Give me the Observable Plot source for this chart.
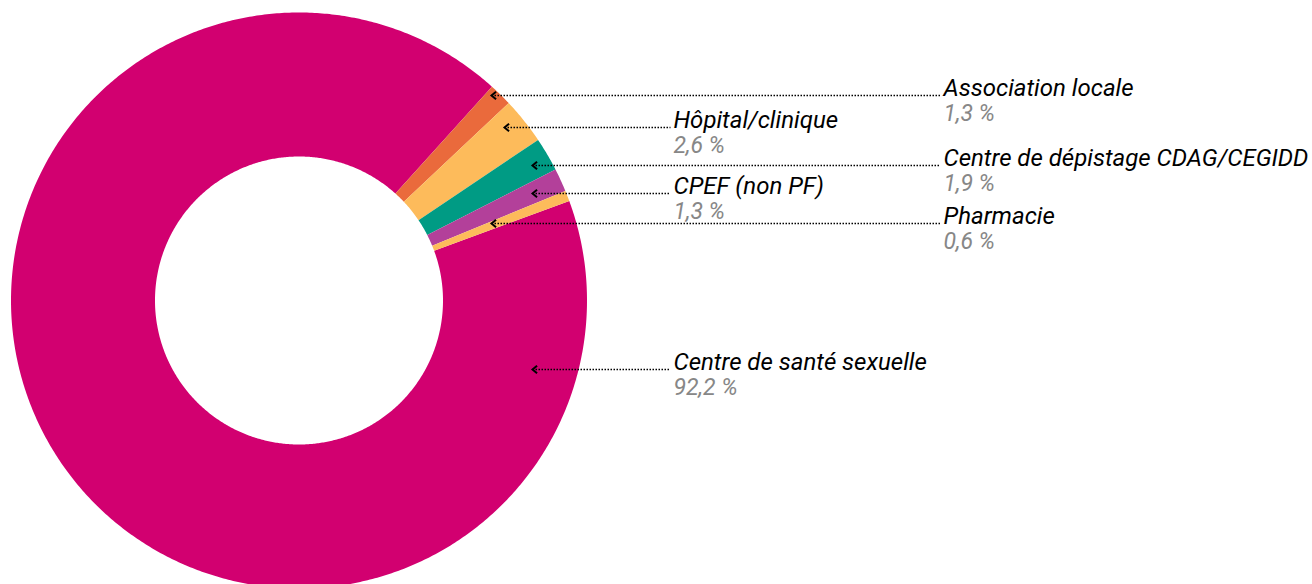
<!DOCTYPE html>
<html>
<head>
<meta charset="utf-8">
<script src="https://cdn.jsdelivr.net/npm/d3@7"></script>
<script src="https://cdn.jsdelivr.net/npm/@observablehq/plot@0.6"></script>
<style>
  html, body { margin: 0; padding: 0; background: #fff; }
  #chart { width: 1312px; height: 584px; overflow: hidden; }
  svg { font-family: Roboto, "Noto Sans", sans-serif; }
</style>
</head>
<body>
<div id="chart"></div>
<script>
// ---- data ----
const categories = ["Centre de santé sexuelle", "Association locale", "Hôpital/clinique", "Centre de dépistage CDAG/CEGIDD", "CPEF (non PF)", "Pharmacie"];
const shares = [92.2, 1.3, 2.6, 1.9, 1.3, 0.6];
const colors = ["#d20070", "#ea6a3c", "#fdbb5b", "#009b84", "#b3409a", "#fdbb5b"];

// ---- layout (annotation placement) ----
const W = 1312, H = 584;
const cx = 298.5, cy = 300, R = 288, r0 = 144;
const startDeg = 69.8;
const labelY  = [369, 95, 127, 165, 193, 223];
const anchorX = [532, 491, 504, 532, 532, 491];
const labelX  = [673, 943, 673, 943, 673, 943];

const total = d3.sum(shares);
const pt = (deg, rad) => {
  const a = deg * Math.PI / 180;
  return [cx + rad * Math.sin(a), cy - rad * Math.cos(a)];
};

// slice polygons built from the values
const poly = [];
let acc = startDeg;
shares.forEach((v, i) => {
  const span = v / total * 360;
  const a0 = acc, a1 = acc + span;
  const n = Math.max(4, Math.ceil(span * 2));
  for (let k = 0; k <= n; k++) { const [x, y] = pt(a0 + (a1 - a0) * k / n, R); poly.push({key: categories[i], x, y}); }
  for (let k = n; k >= 0; k--) { const [x, y] = pt(a0 + (a1 - a0) * k / n, r0); poly.push({key: categories[i], x, y}); }
  acc = a1;
});

const labels = categories.map((c, i) => ({
  name: c,
  pct: String(shares[i]).replace(".", ",") + " %",
  x1: anchorX[i], x2: labelX[i] - 3, y: labelY[i], tx: labelX[i]
}));

const chevron = {
  draw(ctx, size) {
    const s = Math.sqrt(size / Math.PI);
    ctx.moveTo(s * 1.2, -s);
    ctx.lineTo(0, 0);
    ctx.lineTo(s * 1.2, s);
  }
};

const plot = Plot.plot({
  width: W, height: H,
  margin: 0,
  x: {domain: [0, W], range: [0, W], axis: null},
  y: {domain: [0, H], range: [0, H], axis: null},
  color: {domain: categories, range: colors},
  style: {overflow: "hidden", fontFamily: "Roboto, sans-serif"},
  marks: [
    Plot.line(poly, {x: "x", y: "y", z: "key", fill: "key", stroke: "none", curve: "linear-closed"}),
    Plot.link(labels, {x1: "x1", x2: "x2", y1: "y", y2: "y", stroke: "#000", strokeWidth: 1.5, strokeDasharray: "1.5 1.5"}),
    Plot.dot(labels, {x: "x1", y: "y", r: 3.8, symbol: chevron, fill: "none", stroke: "#000", strokeWidth: 2}),
    Plot.text(labels, {x: "tx", y: "y", text: "name", textAnchor: "start", lineAnchor: "bottom", dy: 0, fontSize: 24, fontStyle: "italic", fill: "#000"}),
    Plot.text(labels, {x: "tx", y: "y", text: "pct", textAnchor: "start", lineAnchor: "bottom", dy: 25, fontSize: 23, fontStyle: "italic", fill: "#878787"})
  ]
});
document.getElementById("chart").appendChild(plot);
</script>
</body>
</html>
